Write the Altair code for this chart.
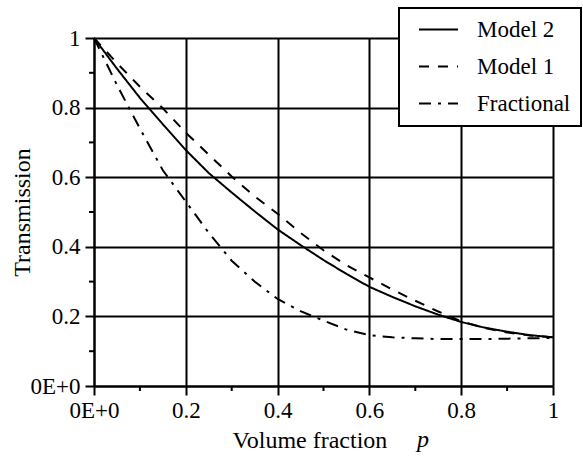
import altair as alt
import pandas as pd

# ---- data ----
x_vals = [0.0, 0.05, 0.1, 0.15, 0.2, 0.25, 0.3, 0.35, 0.4, 0.45, 0.5,
          0.55, 0.6, 0.65, 0.7, 0.75, 0.8, 0.85, 0.9, 0.95, 1.0]
model2 = [1.0, 0.912, 0.828, 0.752, 0.678, 0.612, 0.556, 0.502, 0.450, 0.405, 0.362,
          0.322, 0.285, 0.256, 0.229, 0.205, 0.184, 0.168, 0.156, 0.146, 0.140]
model1 = [1.0, 0.928, 0.860, 0.798, 0.728, 0.665, 0.602, 0.545, 0.495, 0.440, 0.390,
          0.347, 0.312, 0.277, 0.245, 0.214, 0.186, 0.167, 0.154, 0.145, 0.140]
fractional = [1.0, 0.865, 0.740, 0.620, 0.530, 0.440, 0.360, 0.300, 0.250, 0.215, 0.188,
              0.162, 0.146, 0.140, 0.137, 0.135, 0.135, 0.135, 0.136, 0.137, 0.138]
series_names = ["Model 2", "Model 1", "Fractional"]
major_ticks = [0, 0.2, 0.4, 0.6, 0.8, 1]
minor_ticks = [0.1, 0.3, 0.5, 0.7, 0.9]
x_title = "Volume fraction"
x_title_var = "p"
y_title = "Transmission"

rows = []
for name, ys in zip(series_names, [model2, model1, fractional]):
    for xv, yv in zip(x_vals, ys):
        rows.append({"p": xv, "T": yv, "series": name})
df = pd.DataFrame(rows)
minor_df = pd.DataFrame({"v": minor_ticks})

FONT = "Liberation Serif, Times New Roman, Times, serif"
FS = 23
TFS = 24
W, H = 459, 348

xscale = alt.Scale(domain=[0, 1], nice=False)
yscale = alt.Scale(domain=[0, 1], nice=False)
label_expr = "datum.value == 0 ? '0E+0' : format(datum.value, '.1~f')"

common_axis = dict(
    values=major_ticks, labelExpr=label_expr, labelFlush=False, grid=True,
    gridColor="black", gridWidth=2, gridOpacity=1, domainColor="black", domainWidth=2,
    tickColor="black", tickWidth=2, tickSize=9, labelFont=FONT, labelFontSize=FS,
    labelColor="black", titleFont=FONT, titleFontSize=TFS, titleFontWeight="normal",
    titleColor="black",
)
x_axis = alt.Axis(title=x_title, labelPadding=4, titleAlign="left", titleX=138,
                  titleY=61, titleBaseline="alphabetic", **common_axis)
y_axis = alt.Axis(title=y_title, labelPadding=5, titleAngle=270, titleAlign="center",
                  titleBaseline="alphabetic", titleX=-65, titleY=H / 2, **common_axis)

lines = alt.Chart(df).mark_line(strokeWidth=2, color="black").encode(
    x=alt.X("p:Q", scale=xscale, axis=x_axis),
    y=alt.Y("T:Q", scale=yscale, axis=y_axis),
    strokeDash=alt.StrokeDash(
        "series:N",
        scale=alt.Scale(domain=series_names, range=[[1, 0], [10, 9], [12, 7, 3, 7]]),
        legend=alt.Legend(
            title=None, orient="none", legendX=305, legendY=-30,
            symbolType="stroke", symbolSize=1521, symbolStrokeWidth=2,
            symbolStrokeColor="black", labelFont=FONT, labelFontSize=FS,
            labelColor="black", labelOffset=18, rowPadding=13, padding=10,
            clipHeight=23,
            symbolOffset=9, strokeColor="black", fillColor="white",
        ),
    ),
)

x_minor = alt.Chart(minor_df).mark_rule(color="black", strokeWidth=2).encode(
    x=alt.X("v:Q", scale=xscale, axis=x_axis),
    y=alt.value(H), y2=alt.value(H + 5),
)
y_minor = alt.Chart(minor_df).mark_rule(color="black", strokeWidth=2).encode(
    y=alt.Y("v:Q", scale=yscale, axis=y_axis),
    x=alt.value(0), x2=alt.value(-5),
)
p_text = alt.Chart(pd.DataFrame({"t": [x_title_var]})).mark_text(
    font=FONT, fontSize=TFS, fontStyle="italic", align="left", baseline="alphabetic",
    color="black"
).encode(text="t:N", x=alt.value(323), y=alt.value(H + 61))

chart = alt.layer(lines, x_minor, y_minor, p_text).properties(
    width=W, height=H,
    autosize="none",
    padding={"left": 94, "top": 38, "right": 30, "bottom": 74},
).configure_view(stroke=None).configure_legend(strokeWidth=2)

chart.save("out.html", embed_options={"renderer": "svg", "actions": False})
